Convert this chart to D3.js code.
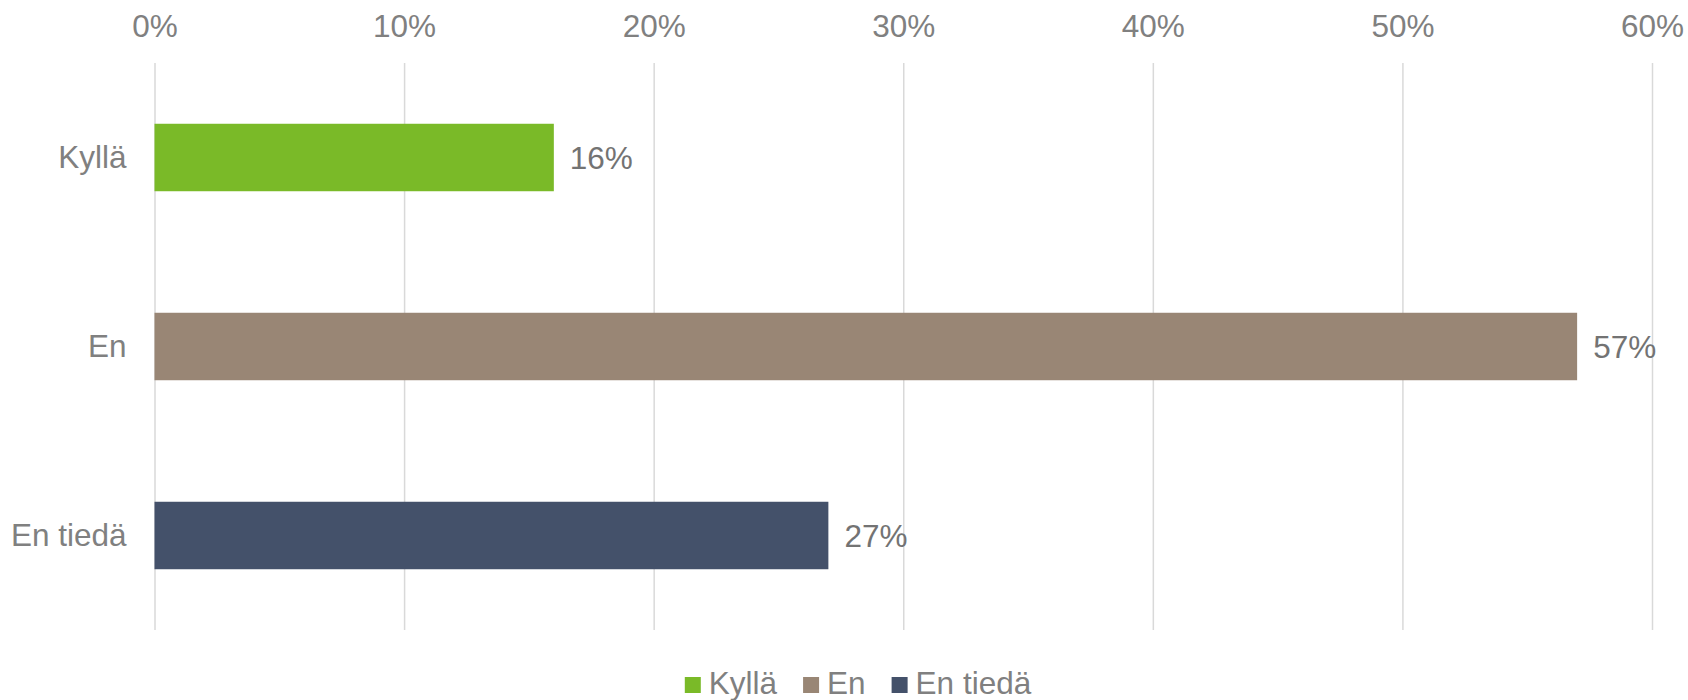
<!DOCTYPE html>
<html>
<head>
<meta charset="utf-8">
<script src="https://cdn.jsdelivr.net/npm/d3@7"></script>
<style>
  body { margin: 0; background: #fff; }
  text { font-family: "Liberation Sans", Arial, sans-serif; }
</style>
</head>
<body>
<div id="chart"></div>
<script>
// data
var categories = ["Kyllä", "En", "En tiedä"];
var values = [0.16, 0.57, 0.27];
var colors = ["#7aba28", "#998675", "#44516a"];
var tickValues = [0, 0.1, 0.2, 0.3, 0.4, 0.5, 0.6];

var svgWidth = 1688;
var svgHeight = 700;
var fontSize = "31.5px";

var margin = { top: 63, right: 36, bottom: 70, left: 154.5 };
var width = svgWidth - margin.left - margin.right;
var height = svgHeight - margin.top - margin.bottom;

var svg = d3.select("#chart")
  .append("svg")
  .attr("width", svgWidth)
  .attr("height", svgHeight);

var chartGroup = svg.append("g")
  .attr("transform", `translate(${margin.left}, ${margin.top})`);

var xScale = d3.scaleLinear()
  .domain([0, 0.6])
  .range([0, width]);

var yScale = d3.scaleBand()
  .domain(categories)
  .range([0, height])
  .paddingInner(0.643)
  .paddingOuter(0.3215);

// gridlines + top tick labels
var topAxis = d3.axisTop(xScale)
  .tickValues(tickValues)
  .tickFormat(d3.format(".0%"))
  .tickSizeInner(-height)
  .tickSizeOuter(0)
  .tickPadding(26);

var xAxisG = chartGroup.append("g").call(topAxis);
xAxisG.select(".domain").remove();
xAxisG.selectAll("line")
  .attr("stroke", "#d9d9d9")
  .attr("stroke-width", 1.5);
xAxisG.selectAll("text")
  .attr("fill", "#808080")
  .style("font-size", fontSize)
  .style("font-family", "'Liberation Sans', Arial, sans-serif");

// category labels
var leftAxis = d3.axisLeft(yScale).tickSize(0).tickPadding(28);
var yAxisG = chartGroup.append("g").call(leftAxis);
yAxisG.select(".domain").remove();
yAxisG.selectAll("text")
  .attr("fill", "#808080")
  .style("font-size", fontSize)
  .style("font-family", "'Liberation Sans', Arial, sans-serif");

// bars
chartGroup.selectAll("rect.bar")
  .data(values)
  .enter()
  .append("rect")
  .attr("class", "bar")
  .attr("x", xScale(0))
  .attr("y", (d, i) => yScale(categories[i]))
  .attr("width", d => xScale(d) - xScale(0))
  .attr("height", yScale.bandwidth())
  .attr("fill", (d, i) => colors[i]);

// value labels
chartGroup.selectAll("text.val")
  .data(values)
  .enter()
  .append("text")
  .attr("class", "val")
  .attr("x", d => xScale(d) + 16)
  .attr("y", (d, i) => yScale(categories[i]) + yScale.bandwidth() / 2)
  .attr("dy", "0.35em")
  .attr("fill", "#737373")
  .style("font-size", fontSize)
  .text(d => d3.format(".0%")(d));

// legend
var legend = svg.append("g");
var lx = 0;
categories.forEach(function(c, i) {
  var item = legend.append("g").attr("transform", `translate(${lx}, 0)`);
  item.append("rect")
    .attr("x", 0)
    .attr("y", 677)
    .attr("width", 16)
    .attr("height", 16)
    .attr("fill", colors[i]);
  var t = item.append("text")
    .attr("x", 24)
    .attr("y", 694)
    .attr("fill", "#808080")
    .style("font-size", fontSize)
    .text(c);
  lx += 24 + t.node().getComputedTextLength() + 26;
});
var legendWidth = lx - 26;
legend.attr("transform", `translate(${858 - legendWidth / 2}, 0)`);
</script>
</body>
</html>
